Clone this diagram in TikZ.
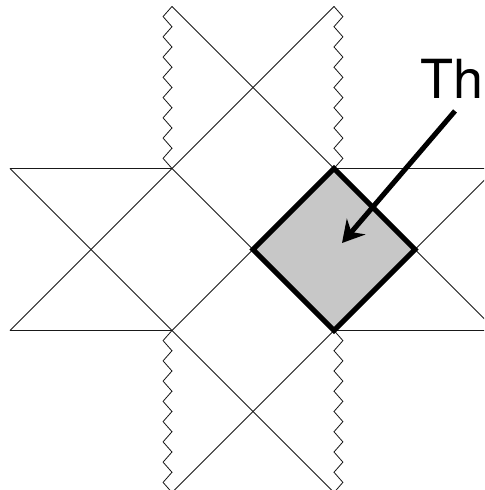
\documentclass[tikz,border=0pt]{standalone}
\usepackage{fontspec}
\setmainfont{TeX Gyre Heros}
\usetikzlibrary{arrows.meta}
\definecolor{cellgray}{gray}{0.78}

\begin{document}
\begin{tikzpicture}[
  x=2.43cm, y=2.43cm,
  edge/.style={line width=0.7pt, black!90},
  cell/.style={fill=cellgray, draw=black, line width=4.3pt, line join=miter},
  ptr/.style={-{Stealth[length=6.5mm, width=7.3mm, inset=2.2mm]}, line width=4.3pt},
  lbl/.style={font=\fontsize{46}{50}\selectfont, inner sep=0pt, anchor=base west},
]
\newcommand{\zigedge}[3]{% x, top y, outward step
  \draw[edge] (#1,#2) \foreach \k in {1,...,8}{ -- ++(#3,-0.125) -- ++({-(#3)},-0.125)};}
\useasboundingbox (-3.123,-2.969) rectangle (2.852,3.080);
\clip (-3.123,-2.969) rectangle (2.852,3.080);
% ---------------- lattice points ----------------
\coordinate (ntl) at (-1,3);   \coordinate (ntr) at (1,3);
\coordinate (nbl) at (-1,-3);  \coordinate (nbr) at (1,-3);
\coordinate (wt) at (-3,1);    \coordinate (wb) at (-3,-1);
\coordinate (et) at (3,1);     \coordinate (eb) at (3,-1);
\coordinate (sq-tl) at (-1,1); \coordinate (sq-tr) at (1,1);
\coordinate (sq-bl) at (-1,-1);\coordinate (sq-br) at (1,-1);
\coordinate (mid) at (0,0);    \coordinate (east) at (2,0);
% ---------------- diagonals ----------------
\draw[edge] (ntl) -- (eb);
\draw[edge] (ntr) -- (wb);
\draw[edge] (nbl) -- (et);
\draw[edge] (nbr) -- (wt);
\draw[edge] (sq-bl) -- (sq-tr);
\draw[edge] (sq-tl) -- (sq-br);
% ---------------- horizontal strip ----------------
\draw[edge] (wt) -- (sq-tl);  \draw[edge] (sq-tr) -- (et);
\draw[edge] (wb) -- (sq-bl);  \draw[edge] (sq-br) -- (eb);
% ---------------- jagged edges ----------------
\zigedge{-1}{3}{-0.11}
\zigedge{1}{3}{0.11}
\zigedge{-1}{-1}{-0.11}
\zigedge{1}{-1}{0.11}
% ---------------- marked cell ----------------
\draw[cell] (mid) -- (sq-tr) -- (east) -- (sq-br) -- cycle;
% ---------------- label and pointer ----------------
\node[lbl] (title) at (2.07,1.87) {Th};
\coordinate (ptr-tail) at (2.494,1.710);
\coordinate (ptr-tip) at (1.099,0.080);
\draw[ptr] (ptr-tail) -- (ptr-tip);
\end{tikzpicture}
\end{document}
